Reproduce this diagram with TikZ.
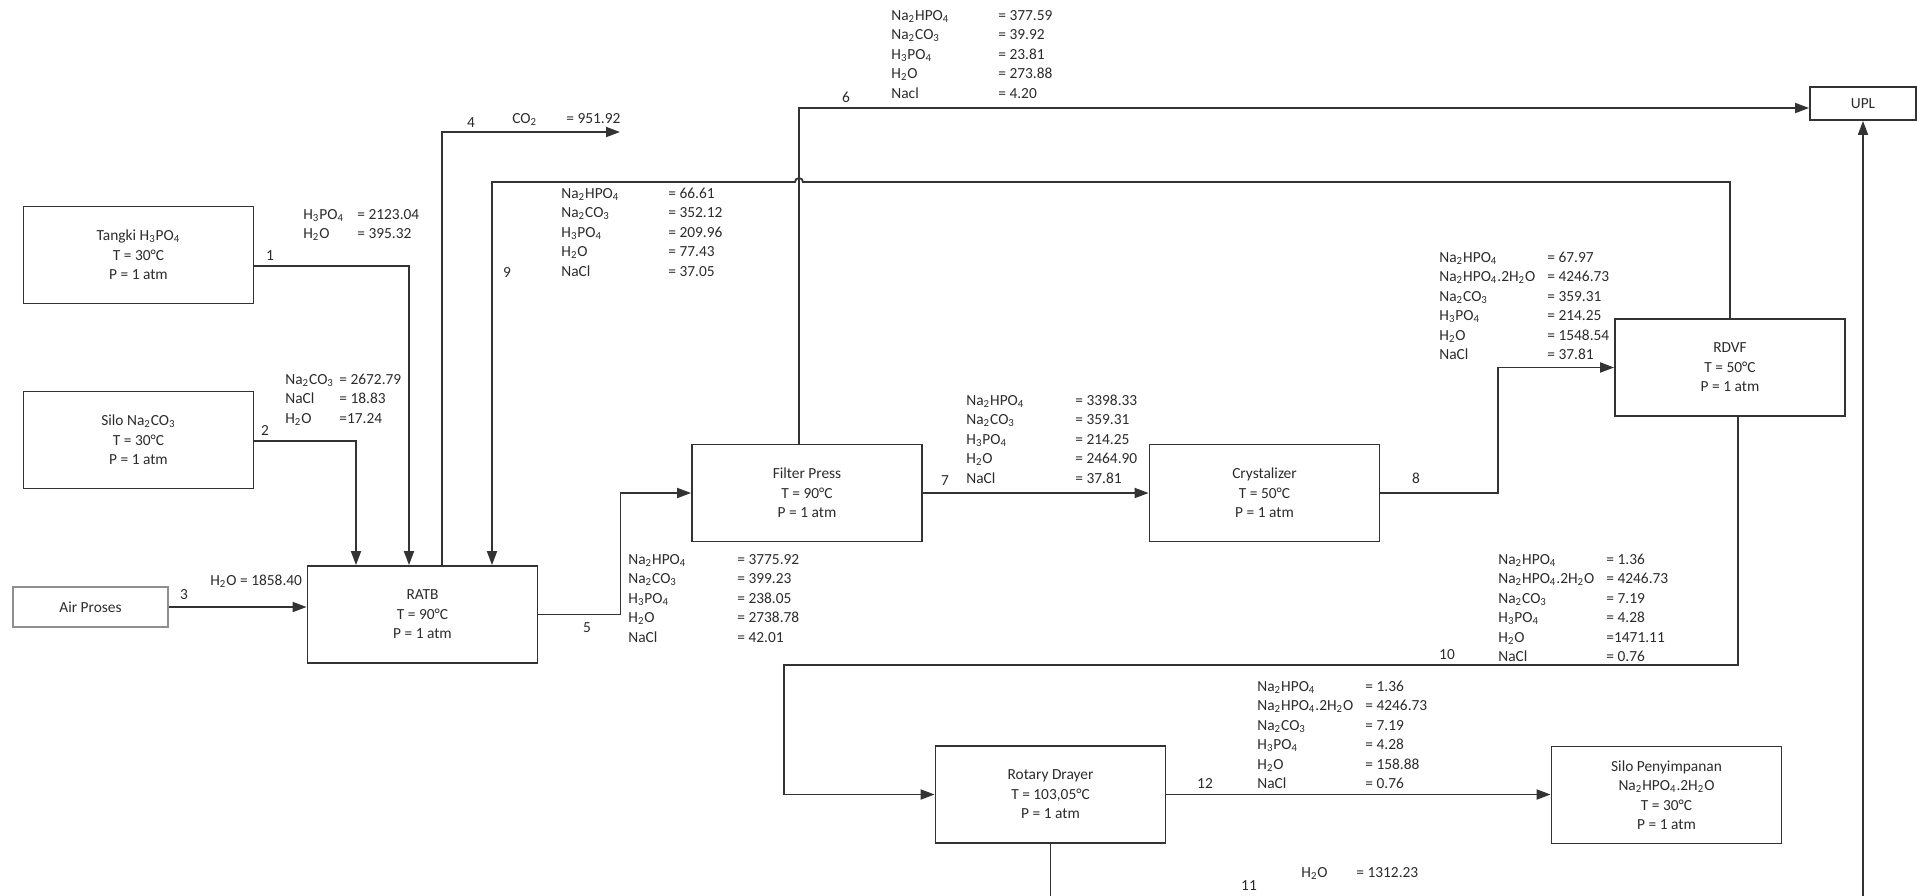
\documentclass[tikz,border=0pt]{standalone}
\usepackage{fontspec}
\setmainfont{Carlito}
\usepackage{xcolor}
\definecolor{lineGray}{HTML}{333333}
\definecolor{textGray}{HTML}{2B2B2B}
\definecolor{softGray}{HTML}{8F8F8F}
\usepackage{tikz}
\usetikzlibrary{arrows.meta}

\newcommand{\nahpo}{Na\textsubscript{2}HPO\textsubscript{4}}
\newcommand{\nahpoh}{Na\textsubscript{2}HPO\textsubscript{4}.2H\textsubscript{2}O}
\newcommand{\naco}{Na\textsubscript{2}CO\textsubscript{3}}
\newcommand{\hpo}{H\textsubscript{3}PO\textsubscript{4}}
\newcommand{\hho}{H\textsubscript{2}O}
\newcommand{\coo}{CO\textsubscript{2}}
\newcommand{\comptab}[2]{\begin{tabular}{@{}p{#1}@{}l@{}}#2\end{tabular}}

\begin{document}
\begin{tikzpicture}[
		x=0.5pt, y=-0.5pt,
		unit/.style={
			draw=lineGray,
			line width=0.9pt,
			minimum width=115pt,
			minimum height=48.5pt,
			align=center,
			inner sep=0pt,
			text=textGray,
			font=\fontsize{7.7}{9.75}\selectfont
		},
		comp/.style={anchor=north west, inner sep=0pt, text=textGray, font=\fontsize{7.7}{9.75}\selectfont},
		num/.style={inner sep=0pt, text=textGray, font=\fontsize{7.7}{9.75}\selectfont},
		flow/.style={-{Triangle[length=7pt,width=5pt]}, line width=0.9pt, draw=lineGray}
		]
		
		\useasboundingbox (0,0) rectangle (1917,895);
		\clip (0,0) rectangle (1917,895);
		
		\node[unit] (tangki) at (138.5,255) {Tangki \hpo\\T = 30°C\\P = 1 atm};
		\node[unit] (silo) at (138.5,440) {Silo \naco\\T = 30°C\\P = 1 atm};
		\node[unit, draw=softGray, minimum width=77.5pt, minimum height=20pt] (air) at (90.5,607) {Air Proses};
		\node[unit] (ratb) at (422.5,614.5) {RATB\\T = 90°C\\P = 1 atm};
		\node[unit] (fp) at (807,493) {Filter Press\\T = 90°C\\P = 1 atm};
		\node[unit] (cryst) at (1264.5,493) {Crystalizer\\T = 50°C\\P = 1 atm};
		\node[unit] (rdvf) at (1730,367.5) {RDVF\\T = 50°C\\P = 1 atm};
		\node[unit, minimum width=53pt, minimum height=16.5pt] (upl) at (1863,103.5) {UPL};
		\node[unit] (rd) at (1050.5,794.5) {Rotary Drayer\\T = 103,05°C\\P = 1 atm};
		\node[unit] (silop) at (1666.5,795) {Silo Penyimpanan\\\nahpoh\\T = 30°C\\P = 1 atm};
		
		\coordinate (co2out) at (620,132);
		
		\draw[flow] (tangki.east |- 0,266) -| (ratb.north -| 409,0);
		\draw[flow] (silo.east |- 0,441) -| (ratb.north -| 356,0);
		\draw[flow] (air) -- (ratb.west |- air);
		\draw[flow] (ratb.north -| 442,0) |- (co2out);
		\draw[flow] (ratb.east) -- ++(82,0) |- (fp.west);
		\draw[flow] (fp.north -| 799,0) |- (upl.west |- 0,108);
		\draw[flow] (fp) -- (cryst);
		\draw[flow] (cryst.east) -- (cryst.east -| 1498,0) |- (rdvf.west);
		\draw[flow] (rdvf.north) |- (803,182) arc[start angle=0, end angle=180, radius=2pt] -| (ratb.north -| 492,0);
		\draw[flow] (rdvf.south -| 1738,0) |- (784,665) |- (rd.west);
		\draw[flow] (rd.east) -- (silop.west |- rd.east);
		\draw[flow] (rd.south) -- ++(0,80) -| (upl.south);
		
		\node[num] (n1) at (270,256) {1};
		\node[num] (n2) at (265,430) {2};
		\node[num] (n3) at (184,595) {3};
		\node[num] (n4) at (471,123) {4};
		\node[num] (n5) at (587,628) {5};
		\node[num] (n6) at (846,97) {6};
		\node[num] (n7) at (945,481) {7};
		\node[num] (n8) at (1416,478) {8};
		\node[num] (n9) at (507,272) {9};
		\node[num] (n10) at (1447,655) {10};
		\node[num] (n11) at (1249,886) {11};
		\node[num] (n12) at (1205,783) {12};
		
		\node[comp] (c1) at (303,205) {\comptab{27pt}{\hpo & = 2123.04\\ \hho & = 395.32}};
		\node[comp] (c2) at (285,370) {\comptab{27pt}{\naco & = 2672.79\\ NaCl & = 18.83\\ \hho & =17.24}};
		\node[comp, anchor=west] (c3) at (210,581) {\hho{} = 1858.40};
		\node[comp] (c4) at (512,109) {\comptab{27pt}{\coo & = 951.92}};
		\node[comp] (c5) at (628,550) {\comptab{54.5pt}{\nahpo & = 3775.92\\ \naco & = 399.23\\ \hpo & = 238.05\\ \hho & = 2738.78\\ NaCl & = 42.01}};
		\node[comp] (c6) at (891,6) {\comptab{53.5pt}{\nahpo & = 377.59\\ \naco & = 39.92\\ \hpo & = 23.81\\ \hho & = 273.88\\ Nacl & = 4.20}};
		\node[comp] (c7) at (966,391) {\comptab{54.5pt}{\nahpo & = 3398.33\\ \naco & = 359.31\\ \hpo & = 214.25\\ \hho & = 2464.90\\ NaCl & = 37.81}};
		\node[comp] (c8) at (1439,248) {\comptab{54pt}{\nahpo & = 67.97\\ \nahpoh & = 4246.73\\ \naco & = 359.31\\ \hpo & = 214.25\\ \hho & = 1548.54\\ NaCl & = 37.81}};
		\node[comp] (c9) at (561,184) {\comptab{53.5pt}{\nahpo & = 66.61\\ \naco & = 352.12\\ \hpo & = 209.96\\ \hho & = 77.43\\ NaCl & = 37.05}};
		\node[comp] (c10) at (1498,550) {\comptab{54pt}{\nahpo & = 1.36\\ \nahpoh & = 4246.73\\ \naco & = 7.19\\ \hpo & = 4.28\\ \hho & =1471.11\\ NaCl & = 0.76}};
		\node[comp] (c11) at (1301,863) {\comptab{27.5pt}{\hho & = 1312.23}};
		\node[comp] (c12) at (1257,677) {\comptab{54pt}{\nahpo & = 1.36\\ \nahpoh & = 4246.73\\ \naco & = 7.19\\ \hpo & = 4.28\\ \hho & = 158.88\\ NaCl & = 0.76}};
		
	\end{tikzpicture}
\end{document}
